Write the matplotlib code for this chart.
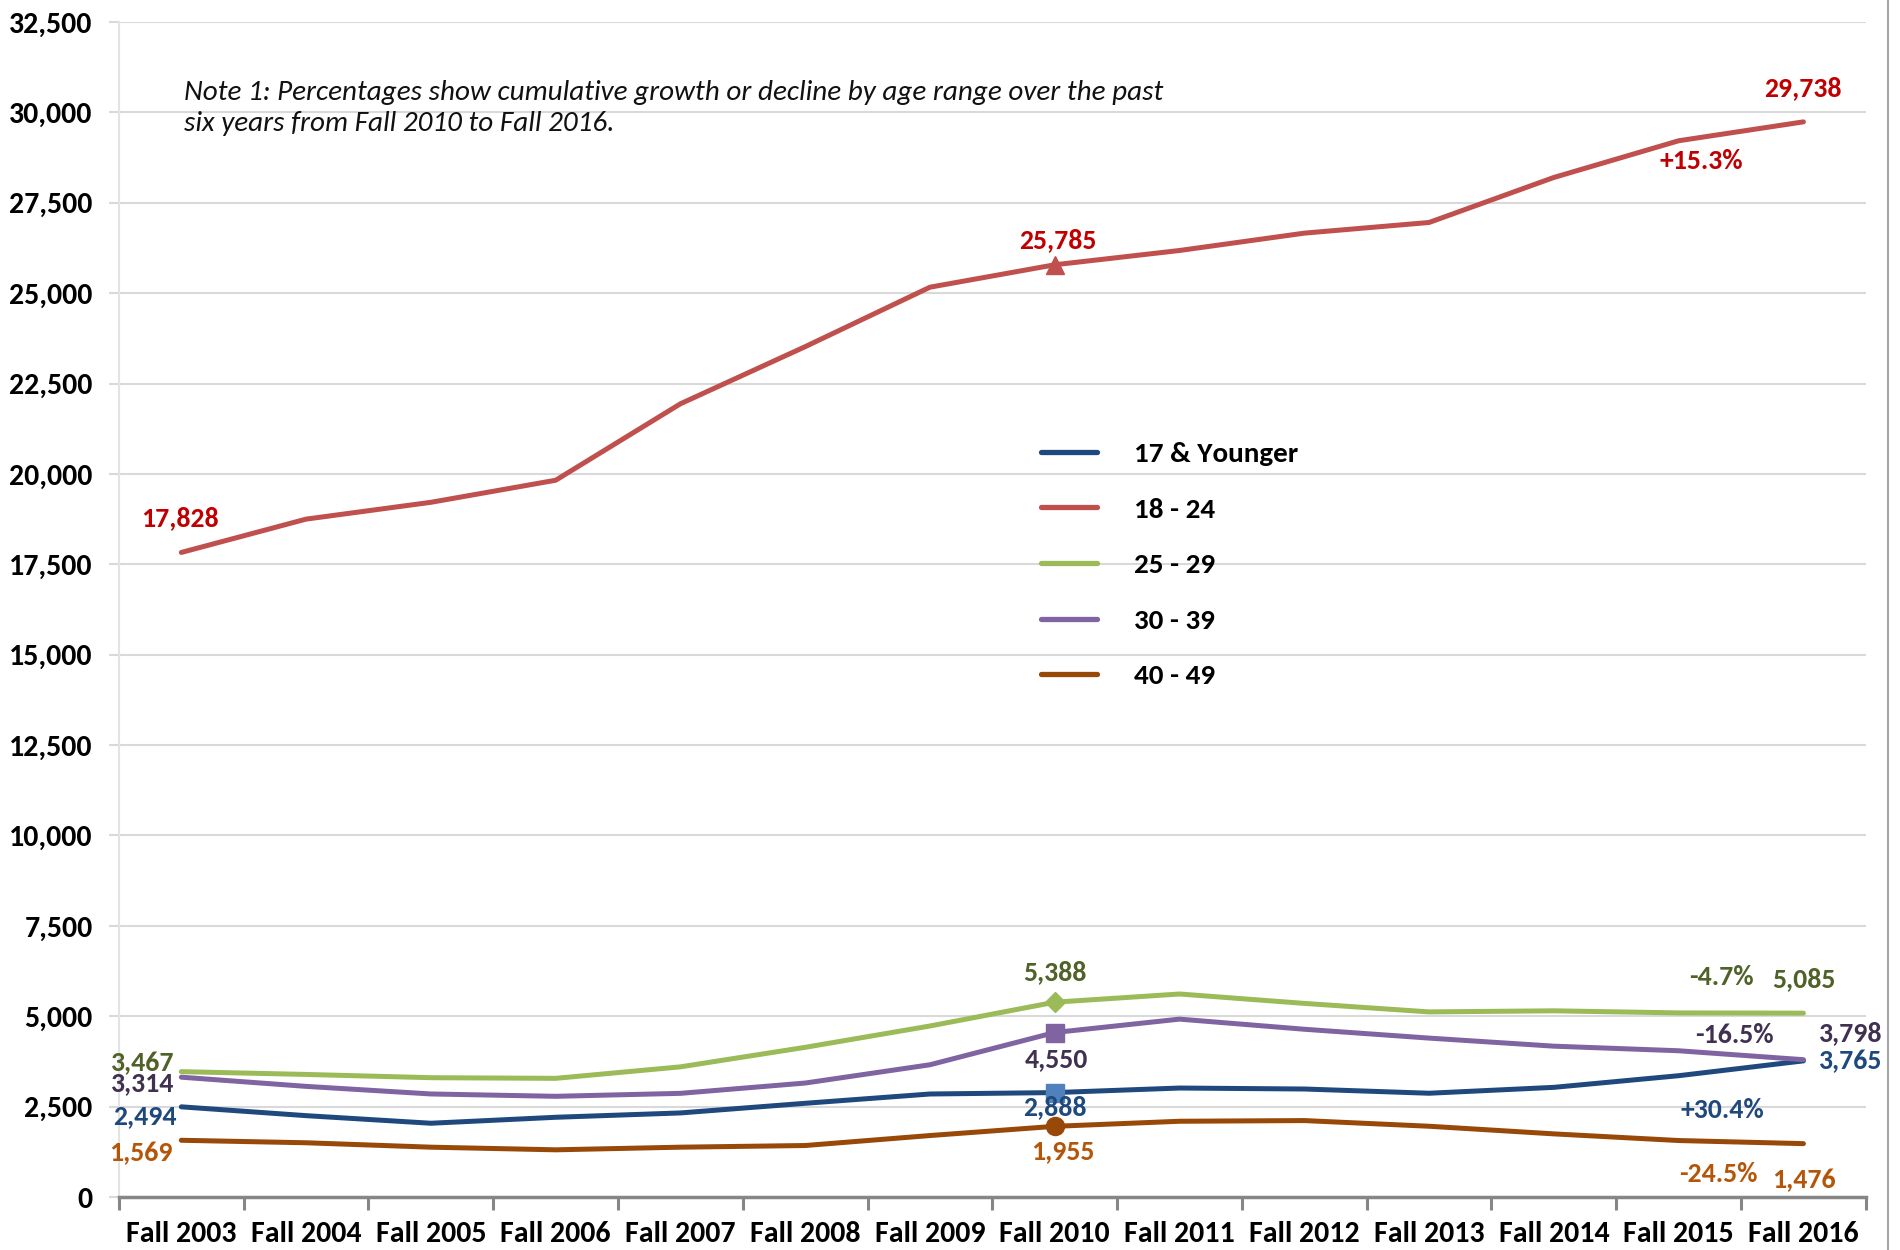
import matplotlib
matplotlib.use("Agg")
import matplotlib.pyplot as plt
from matplotlib import font_manager as fm
from matplotlib.lines import Line2D
from matplotlib.ticker import FuncFormatter, MultipleLocator, FixedLocator

plt.rcParams['font.family'] = ['Carlito', 'DejaVu Sans']

def font_file(name, weight, style):
    for f in fm.fontManager.ttflist:
        if f.name == name and f.weight == weight and f.style == style:
            return f.fname
    return None

BOLD = font_file('Carlito', 700, 'normal')
ITAL = font_file('Carlito', 400, 'italic')

def fp(path, size, weight='bold', style='normal'):
    if path:
        return fm.FontProperties(fname=path, size=size)
    return fm.FontProperties(family='DejaVu Sans', size=size, weight=weight, style=style)

# data
terms = ['Fall 2003', 'Fall 2004', 'Fall 2005', 'Fall 2006', 'Fall 2007',
         'Fall 2008', 'Fall 2009', 'Fall 2010', 'Fall 2011', 'Fall 2012',
         'Fall 2013', 'Fall 2014', 'Fall 2015', 'Fall 2016']
age_17 = [2494, 2250, 2040, 2205, 2325, 2592, 2849, 2888, 3014, 2987, 2870, 3033, 3355, 3765]
age_18_24 = [17828, 18750, 19215, 19825, 21940, 23520, 25165, 25785, 26180, 26660, 26955, 28200, 29215, 29738]
age_25_29 = [3467, 3390, 3300, 3282, 3600, 4140, 4730, 5388, 5615, 5355, 5120, 5150, 5092, 5085]
age_30_39 = [3314, 3060, 2850, 2785, 2867, 3152, 3658, 4550, 4920, 4640, 4395, 4172, 4045, 3798]
age_40_49 = [1569, 1500, 1378, 1305, 1378, 1424, 1700, 1955, 2095, 2114, 1957, 1746, 1562, 1476]
pct_change = {'17 & Younger': '+30.4%', '18 - 24': '+15.3%', '25 - 29': '-4.7%',
              '30 - 39': '-16.5%', '40 - 49': '-24.5%'}

series = [
    # name, values, line colour, label colour, marker, marker colour
    ('17 & Younger', age_17, '#1F497D', '#1F497D', 's', '#4F81BD'),
    ('18 - 24', age_18_24, '#C0504D', '#C00000', '^', '#C0504D'),
    ('25 - 29', age_25_29, '#9BBB59', '#4F6228', 'D', '#9BBB59'),
    ('30 - 39', age_30_39, '#8064A2', '#403151', 's', '#8064A2'),
    ('40 - 49', age_40_49, '#984807', '#B4560A', 'o', '#984807'),
]

x = list(range(len(terms)))
mid = terms.index('Fall 2010')
last = len(terms) - 1

fig = plt.figure(figsize=(19, 12.5), dpi=100)
ax = fig.add_axes([0.0626, 0.0424, 0.9194, 0.94])

for name, vals, col, lcol, mk, mcol in series:
    ax.plot(x, vals, color=col, lw=3.6, label=name, solid_capstyle='round', zorder=3)
    ax.plot([x[mid]], [vals[mid]], marker=mk, color=mcol, ms=13 if mk != 'D' else 10,
            ls='none', zorder=4)

# label offsets (pixels): first, middle, last value, percentage
offsets = {
    '17 & Younger': [(-36, -9), (0, -15), (47, 0), (-81, -49)],
    '18 - 24': [(-1, 34), (3, 25), (-1, 34), (-102, -39)],
    '25 - 29': [(-39, 9), (0, 30), (0, 34), (-82, 36)],
    '30 - 39': [(-39, -6), (2, -27), (47, 27), (-69, 25)],
    '40 - 49': [(-40, -13), (8, -25), (0, -36), (-85, -30)],
}

def put(i, val, txt, off, col):
    ax.annotate(txt, xy=(i, val), xytext=off, textcoords='offset pixels',
                ha='center', va='center', fontproperties=fp(BOLD, 20),
                color=col, zorder=5)

for name, vals, col, lcol, mk, mcol in series:
    o = offsets[name]
    put(0, vals[0], f'{vals[0]:,}', o[0], lcol)
    put(mid, vals[mid], f'{vals[mid]:,}', o[1], lcol)
    put(last, vals[last], f'{vals[last]:,}', o[2], lcol)
    put(last, vals[last], pct_change[name], o[3], lcol)

ax.set_xlim(-0.5, len(terms) - 0.5)
ax.set_ylim(0, 32500)
ax.yaxis.set_major_locator(MultipleLocator(2500))
ax.yaxis.set_major_formatter(FuncFormatter(lambda v, p: f'{int(v):,}'))
ax.set_xticks(x)
ax.set_xticklabels(terms)
ax.xaxis.set_minor_locator(FixedLocator([i - 0.5 for i in range(len(terms) + 1)]))

ax.tick_params(axis='x', which='major', length=0, pad=17)
ax.tick_params(axis='x', which='minor', length=9, width=2.2, color='#868686', direction='out')
ax.tick_params(axis='y', length=7, width=1.5, color='#d9d9d9', pad=12)
for lab in ax.get_xticklabels() + ax.get_yticklabels():
    lab.set_fontproperties(fp(BOLD, 21.5))

ax.grid(axis='y', color='#d9d9d9', lw=1.5)
ax.set_axisbelow(True)
for s in ['top', 'right']:
    ax.spines[s].set_visible(False)
ax.spines['left'].set_color('#e3e3e3')
ax.spines['left'].set_linewidth(1.5)
ax.spines['bottom'].set_color('#868686')
ax.spines['bottom'].set_linewidth(2.5)
ax.spines['bottom'].set_zorder(6)

ax.text(0.037, 0.927,
        'Note 1: Percentages show cumulative growth or decline by age range over the past\n'
        'six years from Fall 2010 to Fall 2016.',
        transform=ax.transAxes, fontproperties=fp(ITAL, 21, 'normal', 'italic'),
        color='#111111', va='center', ha='left', linespacing=1.3)

leg = ax.legend(loc='upper left', bbox_to_anchor=(0.528, 0.643), frameon=False,
                prop=fp(BOLD, 21), handlelength=1.9, handletextpad=1.27, labelspacing=1.07,
                borderpad=0, borderaxespad=0)
for h in leg.get_lines():
    h.set_linewidth(3.8)

# right chart border
fig.add_artist(Line2D([0.9937, 0.9937], [0.0, 1.0], color='#a6a6a6', lw=1.5))

fig.savefig('out.png', dpi=100)
